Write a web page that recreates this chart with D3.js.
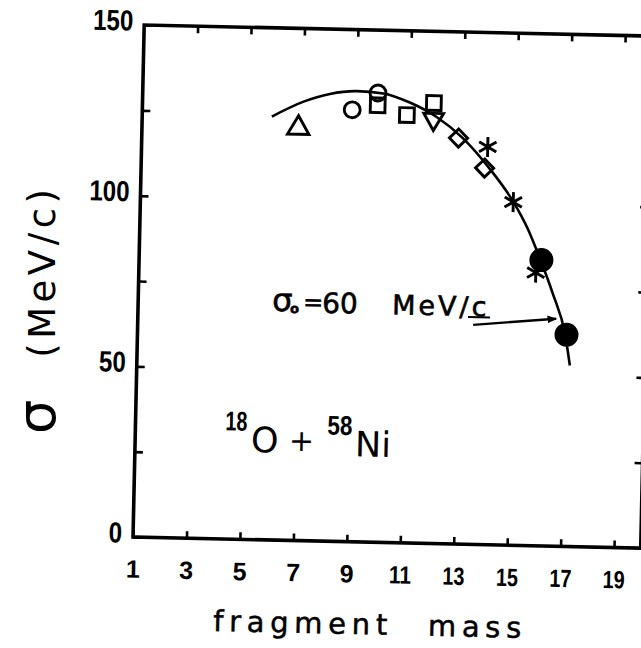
<!DOCTYPE html>
<html>
<head>
<meta charset="utf-8">
<script src="https://cdn.jsdelivr.net/npm/d3@7"></script>
<style>
  html, body { margin: 0; padding: 0; background: #fff; }
  svg { display: block; }
</style>
</head>
<body>
<svg id="chart" width="641" height="648"></svg>
<script>
// ---- data -------------------------------------------------------------
const massTicks   = [1, 3, 5, 7, 9, 11, 13, 15, 17, 19];
const sigmaTicks  = [0, 25, 50, 75, 100, 125, 150];
const sigmaLabels = [0, 50, 100, 150];

// one entry per measured set: marker shape, fragment masses, widths (MeV/c)
const seriesSymbol = ["triangle", "circle", "square", "triangleDown", "diamond", "asterisk", "dot"];
const seriesMass   = [[6.85], [8.85, 9.8], [9.8, 10.9, 11.9], [11.9], [12.85, 13.85], [13.95, 14.95, 15.85], [16.05, 17.05]];
const seriesSigma  = [[120.8], [126.5, 131.6], [128.0, 125.3, 129.0], [124.3], [118.9, 110.3], [116.5, 100.5, 80.0], [83.7, 62.0]];

// sigma_0 = 60 MeV/c systematics curve
const fitMass  = [5.85, 7, 8, 9, 10, 11, 12, 13, 14, 15, 15.5, 16, 16.5, 17, 17.2];
const fitSigma = [124, 128.5, 131, 132, 131.5, 129, 125, 119, 110.5, 100, 93, 84, 74, 62, 53];

// pointer from the sigma_0 note to the curve
const arrowMass  = [13.55, 16.65];
const arrowSigma = [64.3, 66.6];

// ---- layout -----------------------------------------------------------
const svg = d3.select("#chart");
const x = d3.scaleLinear().domain([1, 19]).range([138.6, 619.7]);
const y = d3.scaleLinear().domain([0, 150]).range([542.5, 30.4]);
const xEdge = 20;

const numFont = '"Liberation Sans", Arial, sans-serif';
const textFont = '"DejaVu Sans", "Liberation Sans", sans-serif';

svg.append("defs").append("marker")
  .attr("id", "head")
  .attr("viewBox", "0 0 10 10")
  .attr("refX", 9).attr("refY", 5)
  .attr("markerWidth", 4).attr("markerHeight", 4)
  .attr("orient", "auto")
  .append("path").attr("d", "M0,1 L10,5 L0,9 Z").attr("fill", "#000");

// the whole plot sits slightly tilted on the page
const plot = svg.append("g").attr("transform", "rotate(1.25, 388, 284)");

// frame
plot.append("path")
  .attr("d", `M${x(1)},${y(150)} L${x(xEdge)},${y(150)} L${x(xEdge)},${y(0)} L${x(1)},${y(0)} Z`)
  .attr("fill", "none").attr("stroke", "#000").attr("stroke-width", 3.6)
  .attr("stroke-linejoin", "miter");

function styleAxis(g, size) {
  g.select(".domain").remove();
  g.selectAll(".tick line").attr("stroke", "#000").attr("stroke-width", 2.6);
  g.attr("font-family", numFont).attr("font-weight", "bold").attr("font-size", size);
  g.selectAll(".tick text").attr("fill", "#000");
}

// left axis with labels (condensed digits)
plot.append("g")
  .attr("transform", `translate(${x(1)},0)`)
  .call(d3.axisLeft(y).tickValues(sigmaTicks).tickSizeInner(-8).tickSizeOuter(0)
        .tickPadding(11).tickFormat(d => sigmaLabels.includes(d) ? d : ""))
  .call(g => styleAxis(g, 29))
  .call(g => g.selectAll(".tick text")
    .attr("y", -4)
    .filter(d => sigmaLabels.includes(d))
    .attr("textLength", d => String(d).length * 13.4)
    .attr("lengthAdjust", "spacingAndGlyphs"));

// bottom axis with labels
plot.append("g")
  .attr("transform", `translate(0,${y(0)})`)
  .call(d3.axisBottom(x).tickValues(massTicks).tickSizeInner(-7).tickSizeOuter(0)
        .tickPadding(23).tickFormat(d3.format("d")))
  .call(g => styleAxis(g, 25))
  .call(g => g.selectAll(".tick text")
    .filter(d => d >= 10)
    .attr("textLength", 22)
    .attr("lengthAdjust", "spacingAndGlyphs"));

// top and right inner ticks
plot.append("g")
  .attr("transform", `translate(0,${y(150)})`)
  .call(d3.axisTop(x).tickValues(massTicks.slice(1)).tickSizeInner(-7).tickSizeOuter(0).tickFormat(""))
  .call(g => styleAxis(g, 10));
plot.append("g")
  .attr("transform", `translate(${x(xEdge)},0)`)
  .call(d3.axisRight(y).tickValues(sigmaTicks.slice(1, -1)).tickSizeInner(-8).tickSizeOuter(0).tickFormat(""))
  .call(g => styleAxis(g, 10));

// curve
const fitPts = fitMass.map((m, i) => [m, fitSigma[i]]);
plot.append("path")
  .datum(fitPts)
  .attr("d", d3.line().x(d => x(d[0])).y(d => y(d[1])).curve(d3.curveMonotoneX))
  .attr("fill", "none").attr("stroke", "#000").attr("stroke-width", 2.6);

// markers
const shapes = {
  triangle:     { gen: d3.symbol(d3.symbolTriangle, 200), rot: 0,   fill: "none" },
  circle:       { gen: d3.symbol(d3.symbolCircle, 200),   rot: 0,   fill: "none" },
  square:       { gen: d3.symbol(d3.symbolSquare, 215),   rot: 0,   fill: "none" },
  triangleDown: { gen: d3.symbol(d3.symbolTriangle, 170), rot: 180, fill: "none" },
  diamond:      { gen: d3.symbol(d3.symbolSquare, 165),   rot: 45,  fill: "none" },
  dot:          { gen: d3.symbol(d3.symbolCircle, 350),   rot: 0,   fill: "#000" }
};
function asteriskPath(r) {
  let p = "";
  [90, 30, 150].forEach(a => {
    const t = a * Math.PI / 180, dx = Math.cos(t) * r, dy = Math.sin(t) * r;
    p += `M${-dx},${-dy}L${dx},${dy}`;
  });
  return p;
}

const points = [];
seriesSymbol.forEach((s, i) => seriesMass[i].forEach((m, j) => points.push({ s, m, v: seriesSigma[i][j] })));

plot.append("g").selectAll("path.mark")
  .data(points)
  .join("path")
  .attr("class", "mark")
  .attr("transform", d => `translate(${x(d.m)},${y(d.v)}) rotate(${d.s === "asterisk" ? 0 : shapes[d.s].rot})`)
  .attr("d", d => d.s === "asterisk" ? asteriskPath(10) : shapes[d.s].gen())
  .attr("fill", d => d.s === "asterisk" ? "none" : shapes[d.s].fill)
  .attr("stroke", "#000")
  .attr("stroke-width", 2.9)
  .attr("stroke-linejoin", "miter");

// pointer line
plot.append("line")
  .attr("x1", x(arrowMass[0])).attr("y1", y(arrowSigma[0]))
  .attr("x2", x(arrowMass[1])).attr("y2", y(arrowSigma[1]))
  .attr("stroke", "#000").attr("stroke-width", 2.4)
  .attr("marker-end", "url(#head)");

// ---- text -------------------------------------------------------------
// y title
const yt = svg.append("text")
  .attr("transform", "translate(55,434) rotate(-90)")
  .attr("font-family", textFont).attr("fill", "#000");
yt.append("tspan").attr("font-size", 54).text("σ");
yt.append("tspan").attr("font-size", 37).attr("dx", 42).attr("letter-spacing", 4.5).text("(MeV/c)");

// x title
const xt = svg.append("text")
  .attr("transform", "translate(213,631) rotate(1.25)")
  .attr("font-family", textFont).attr("font-size", 29).attr("letter-spacing", 5.7)
  .attr("fill", "#000").attr("stroke", "#000").attr("stroke-width", 0.5);
xt.append("tspan").text("fragment");
xt.append("tspan").attr("dx", 35).text("mass");

// sigma_0 note
const note = svg.append("text")
  .attr("transform", "rotate(1.25, 380, 313)")
  .attr("font-family", textFont).attr("fill", "#000")
  .attr("stroke", "#000").attr("stroke-width", 0.6);
note.append("tspan").attr("x", 272).attr("y", 313).attr("font-size", 32).text("σ");
note.append("tspan").attr("x", 290).attr("y", 315).attr("font-size", 13).attr("font-weight", "bold").text("o");
note.append("tspan").attr("x", 303).attr("y", 312).attr("font-size", 24).text("=");
note.append("tspan").attr("x", 322).attr("y", 314).attr("font-size", 28).text("60");
note.append("tspan").attr("x", 392).attr("y", 314).attr("font-size", 27).attr("letter-spacing", 3).text("MeV/c");
svg.append("line")
  .attr("x1", 468).attr("y1", 317).attr("x2", 490).attr("y2", 317.5)
  .attr("stroke", "#000").attr("stroke-width", 2.2);

// reaction label
const rx = svg.append("text")
  .attr("transform", "rotate(1.25, 300, 445)")
  .attr("fill", "#000");
rx.append("tspan").attr("x", 225).attr("y", 432).attr("font-family", numFont).attr("font-weight", "bold")
  .attr("font-size", 27).attr("textLength", 22).attr("lengthAdjust", "spacingAndGlyphs").text("18");
rx.append("tspan").attr("x", 251).attr("y", 453).attr("font-family", textFont).attr("font-size", 35).text("O");
rx.append("tspan").attr("x", 289).attr("y", 451).attr("font-family", textFont).attr("font-size", 30).text("+");
rx.append("tspan").attr("x", 327).attr("y", 434).attr("font-family", numFont).attr("font-weight", "bold")
  .attr("font-size", 27).attr("textLength", 25).attr("lengthAdjust", "spacingAndGlyphs").text("58");
rx.append("tspan").attr("x", 355).attr("y", 455).attr("font-family", textFont).attr("font-size", 35).text("Ni");
</script>
</body>
</html>
